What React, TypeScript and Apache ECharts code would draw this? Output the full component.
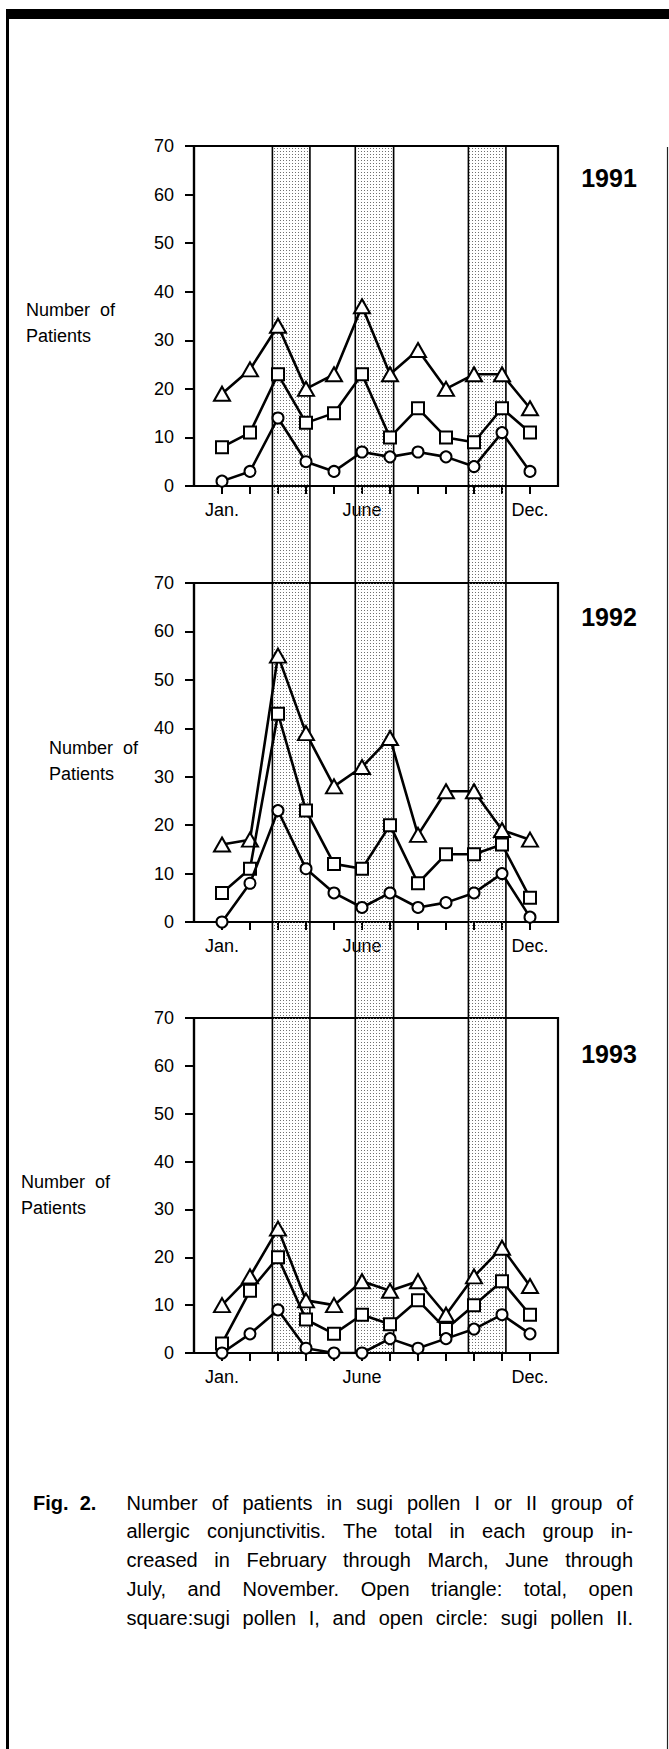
import React, { useEffect, useRef } from "react";
import * as echarts from "echarts";

// ---------------- data ----------------
const MONTHS = [1, 2, 3, 4, 5, 6, 7, 8, 9, 10, 11, 12];
const X_LABEL_VALUES = [1, 6, 12];
const X_LABEL_TEXT: Record<number, string> = { 1: "Jan.", 6: "June", 12: "Dec." };
const YEARS = ["1991", "1992", "1993"];

const total1991 = [19, 24, 33, 20, 23, 37, 23, 28, 20, 23, 23, 16];
const pollenI1991 = [8, 11, 23, 13, 15, 23, 10, 16, 10, 9, 16, 11];
const pollenII1991 = [1, 3, 14, 5, 3, 7, 6, 7, 6, 4, 11, 3];

const total1992 = [16, 17, 55, 39, 28, 32, 38, 18, 27, 27, 19, 17];
const pollenI1992 = [6, 11, 43, 23, 12, 11, 20, 8, 14, 14, 16, 5];
const pollenII1992 = [0, 8, 23, 11, 6, 3, 6, 3, 4, 6, 10, 1];

const total1993 = [10, 16, 26, 11, 10, 15, 13, 15, 8, 16, 22, 14];
const pollenI1993 = [2, 13, 20, 7, 4, 8, 6, 11, 5, 10, 15, 8];
const pollenII1993 = [0, 4, 9, 1, 0, 0, 3, 1, 3, 5, 8, 4];

// shaded periods (in month units on the x scale)
const BAND_STARTS = [2.8, 5.76, 9.8];
const BAND_ENDS = [4.14, 7.13, 11.14];

const CAPTION_LINES = [
  "Number of patients in sugi pollen I or II group of",
  "allergic conjunctivitis. The total in each group in-",
  "creased in February through March, June through",
  "July, and November. Open triangle: total, open",
  "square:sugi pollen I, and open circle: sugi pollen II.",
];

// ---------------- layout ----------------
const W = 669;
const H = 1749;
const FONT = '"Liberation Sans", Arial, Helvetica, sans-serif';
const GRID_LEFT = 194;
const GRID_WIDTH = 364;
const PANELS = [
  { top: 146, height: 340, yearY: 178, labelX: 26, labelY: 310, data: [total1991, pollenI1991, pollenII1991] },
  { top: 583, height: 339, yearY: 617, labelX: 49, labelY: 748, data: [total1992, pollenI1992, pollenII1992] },
  { top: 1018, height: 335, yearY: 1054, labelX: 21, labelY: 1182, data: [total1993, pollenI1993, pollenII1993] },
];
const SYMBOLS = [
  { symbol: "triangle", size: [16, 14] },
  { symbol: "rect", size: 12 },
  { symbol: "circle", size: 11 },
];
const SERIES_NAMES = ["total", "sugi pollen I", "sugi pollen II"];

const dotSvg =
  '<svg xmlns="http://www.w3.org/2000/svg" width="3" height="3"><rect x="1" y="1" width="1" height="1" fill="#707070"/></svg>';
const DOT_PATTERN: any = {
  image: "data:image/svg+xml;charset=utf-8," + encodeURIComponent(dotSvg),
  repeat: "repeat",
  imageWidth: 3,
  imageHeight: 3,
};

function measure(text: string, font: string): number {
  const c = document.createElement("canvas").getContext("2d")!;
  c.font = font;
  return c.measureText(text).width;
}

function captionElements(): any[] {
  const els: any[] = [];
  const fontSize = 20;
  const cssFont = `${fontSize}px "Liberation Sans", Arial, sans-serif`;
  const x0 = 126.5;
  const x1 = 633;
  CAPTION_LINES.forEach((line, li) => {
    const words = line.split(/\s+/);
    const widths = words.map((w) => measure(w, cssFont));
    const total = widths.reduce((a, b) => a + b, 0);
    const gap = (x1 - x0 - total) / (words.length - 1);
    let x = x0;
    const y = 1502.5 + li * 28.9;
    words.forEach((w, wi) => {
      els.push({
        type: "text",
        x,
        y,
        style: { text: w, fontSize, fontFamily: FONT, fill: "#000", align: "left", verticalAlign: "middle" },
      });
      x += widths[wi] + gap;
    });
  });
  els.push({
    type: "text",
    x: 33,
    y: 1502.5,
    style: { text: "Fig.  2.", fontSize: 20, fontWeight: "bold", fontFamily: FONT, fill: "#000", align: "left", verticalAlign: "middle" },
  });
  return els;
}

function buildOption(): any {
  const grids: any[] = PANELS.map((p) => ({
    left: GRID_LEFT,
    top: p.top,
    width: GRID_WIDTH,
    height: p.height,
    show: true,
    borderColor: "#000",
    borderWidth: 2.2,
    backgroundColor: "transparent",
    containLabel: false,
    outerBoundsMode: "none",
  }));
  // band grid spanning all three panels
  const bandTop = PANELS[0].top;
  const bandBottom = PANELS[2].top + PANELS[2].height;
  grids.push({
    left: GRID_LEFT,
    top: bandTop,
    width: GRID_WIDTH,
    height: bandBottom - bandTop,
    show: false,
    containLabel: false,
    outerBoundsMode: "none",
  });

  const xAxes: any[] = PANELS.map((_, i) => ({
    type: "value",
    gridIndex: i,
    min: 0,
    max: 13,
    interval: 1,
    axisLine: { show: true, onZero: false, lineStyle: { color: "#000", width: 2.2 } },
    axisTick: { show: true, length: 8, lineStyle: { color: "#000", width: 2 }, customValues: MONTHS },
    axisLabel: {
      show: true,
      customValues: X_LABEL_VALUES,
      formatter: (v: number) => X_LABEL_TEXT[v] || "",
      color: "#000",
      fontSize: 18,
      fontFamily: FONT,
      margin: 15,
    },
    splitLine: { show: false },
  }));
  xAxes.push({ type: "value", gridIndex: 3, min: 0, max: 13, show: false });

  const yAxes: any[] = PANELS.map((_, i) => ({
    type: "value",
    gridIndex: i,
    min: 0,
    max: 70,
    interval: 10,
    axisLine: { show: true, onZero: false, lineStyle: { color: "#000", width: 2.2 } },
    axisTick: { show: true, length: 9, lineStyle: { color: "#000", width: 2 } },
    axisLabel: { color: "#000", fontSize: 18, fontFamily: FONT, margin: 20 },
    splitLine: { show: false },
  }));
  yAxes.push({ type: "value", gridIndex: 3, min: 0, max: 1, show: false });

  const series: any[] = [
    {
      type: "custom",
      name: "bands",
      xAxisIndex: 3,
      yAxisIndex: 3,
      silent: true,
      clip: false,
      z: 1,
      data: BAND_STARTS.map((s, i) => [s, BAND_ENDS[i]]),
      encode: { x: [0, 1] },
      renderItem: (params: any, api: any) => {
        const s = api.value(0);
        const e = api.value(1);
        const p1 = api.coord([s, 1]);
        const p2 = api.coord([e, 0]);
        return {
          type: "group",
          children: [
            {
              type: "rect",
              shape: { x: p1[0], y: p1[1], width: p2[0] - p1[0], height: p2[1] - p1[1] },
              style: { fill: DOT_PATTERN },
            },
            {
              type: "line",
              shape: { x1: p1[0], y1: p1[1], x2: p1[0], y2: p2[1] },
              style: { stroke: "#000", lineWidth: 1.6 },
            },
            {
              type: "line",
              shape: { x1: p2[0], y1: p1[1], x2: p2[0], y2: p2[1] },
              style: { stroke: "#000", lineWidth: 1.6 },
            },
          ],
        };
      },
    },
  ];

  PANELS.forEach((p, pi) => {
    p.data.forEach((vals, si) => {
      series.push({
        type: "line",
        name: SERIES_NAMES[si],
        xAxisIndex: pi,
        yAxisIndex: pi,
        data: MONTHS.map((m, k) => [m, vals[k]]),
        symbol: SYMBOLS[si].symbol,
        symbolSize: SYMBOLS[si].size,
        showAllSymbol: true,
        z: 5 + si,
        lineStyle: { color: "#000", width: 2.6 },
        itemStyle: { color: "#fff", borderColor: "#000", borderWidth: 2 },
        emphasis: { disabled: true },
      });
    });
  });

  const graphics: any[] = [
    // page frame
    { type: "rect", shape: { x: 6, y: 9, width: W - 6, height: 10 }, style: { fill: "#000" } },
    { type: "rect", shape: { x: 6, y: 9, width: 3, height: H - 9 }, style: { fill: "#000" } },
    { type: "line", shape: { x1: 667.5, y1: 147, x2: 667.5, y2: H }, style: { stroke: "#222", lineWidth: 1.2 } },
  ];
  PANELS.forEach((p, i) => {
    graphics.push({
      type: "text",
      x: 609,
      y: p.yearY,
      style: { text: YEARS[i], fontSize: 25, fontWeight: "bold", fontFamily: FONT, fill: "#000", align: "center", verticalAlign: "middle" },
    });
    graphics.push({
      type: "text",
      x: p.labelX,
      y: p.labelY,
      style: { text: "Number  of", fontSize: 18, fontFamily: FONT, fill: "#000", align: "left", verticalAlign: "middle" },
    });
    graphics.push({
      type: "text",
      x: p.labelX,
      y: p.labelY + 26,
      style: { text: "Patients", fontSize: 18, fontFamily: FONT, fill: "#000", align: "left", verticalAlign: "middle" },
    });
  });
  graphics.push(...captionElements());

  return {
    animation: false,
    backgroundColor: "#fff",
    grid: grids,
    xAxis: xAxes,
    yAxis: yAxes,
    series,
    graphic: { elements: graphics },
  };
}

export default function App() {
  const ref = useRef<HTMLDivElement>(null);
  useEffect(() => {
    const el = ref.current;
    if (!el) return;
    const chart = echarts.init(el, null, { renderer: "svg", width: W, height: H });
    chart.setOption(buildOption());
    return () => {
      chart.dispose();
    };
  }, []);
  return (
    <div
      ref={ref}
      style={{ position: "absolute", left: 0, top: 0, width: W, height: H, background: "#fff" }}
    />
  );
}
